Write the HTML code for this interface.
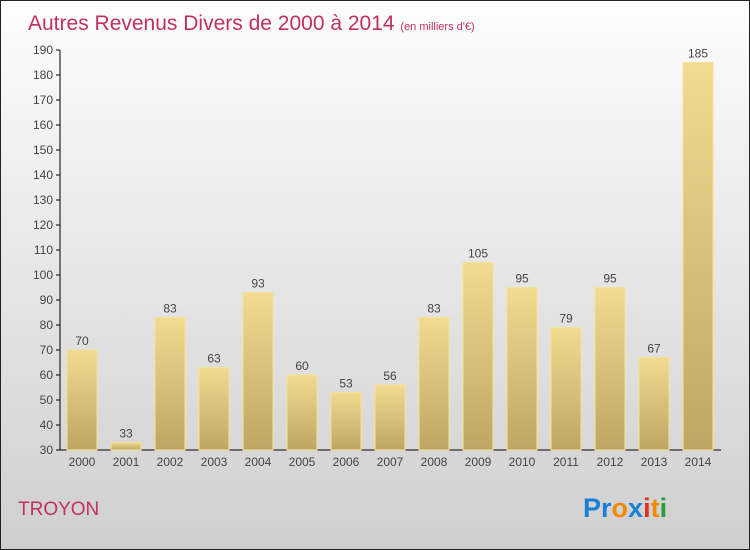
<!DOCTYPE html>
<html><head><meta charset="utf-8"><style>
body{margin:0}
#c{position:relative;width:748px;height:548px;border:1px solid #222;background:linear-gradient(#fdfdfd,#cfcfcf);font-family:"Liberation Sans",sans-serif;overflow:hidden}
</style></head><body>
<div id="c">
<svg width="748" height="548">
<defs><linearGradient id="g" x1="0" y1="0" x2="0" y2="1"><stop offset="0" stop-color="#f3da92"/><stop offset="1" stop-color="#bea662"/></linearGradient></defs>
<text x="27" y="29" font-size="21" fill="#c2305f">Autres Revenus Divers de 2000 à 2014 <tspan font-size="11">(en milliers d'€)</tspan></text>
<g id="axes"></g><g id="bars"></g>
<text x="17" y="514" font-size="19" fill="#c2305f">TROYON</text>
<text x="582" y="516" font-size="27" font-weight="bold"><tspan fill="#1a7fd6">Pr</tspan><tspan fill="#f08a00">o</tspan><tspan fill="#1a7fd6">x</tspan><tspan fill="#e03020">i</tspan><tspan fill="#f08a00">t</tspan><tspan fill="#2a9a3a">i</tspan></text>
</svg></div>
<script>
const years=["2000","2001","2002","2003","2004","2005","2006","2007","2008","2009","2010","2011","2012","2013","2014"];
const values=[70,33,83,63,93,60,53,56,83,105,95,79,95,67,185];
const ticks=[30,40,50,60,70,80,90,100,110,120,130,140,150,160,170,180,190];
const NS="http://www.w3.org/2000/svg";
const y=v=>449-(v-30)*2.5, x=i=>66+44*i;
const ax=document.getElementById('axes'), bg=document.getElementById('bars');
function mk(t,a,p){const e=document.createElementNS(NS,t);for(const k in a)e.setAttribute(k,a[k]);p.appendChild(e);return e;}
let l=mk('line',{x1:59,y1:49,x2:59,y2:449,stroke:'#000'},ax);


l=mk('line',{x1:59,y1:449,x2:720,y2:449,stroke:'#000'},ax);


ticks.forEach(t=>{mk('line',{x1:55,x2:59,y1:y(t),y2:y(t),stroke:'#000'},ax);
const e=mk('text',{x:52,y:y(t)+4,'font-size':12,fill:'#444','text-anchor':'end'},ax);e.textContent=t;

});
years.forEach((yr,i)=>{const r=mk('rect',{x:x(i),y:y(values[i]),width:30,height:449-y(values[i]),fill:'url(#g)',stroke:'#f5e29a','stroke-width':1},bg);


const v=mk('text',{x:x(i)+15,y:y(values[i])-5,'font-size':12,fill:'#444','text-anchor':'middle'},bg);v.textContent=values[i];


const t=mk('text',{x:x(i)+15,y:465,'font-size':12,fill:'#444','text-anchor':'middle'},bg);t.textContent=yr;

});
</script>
</body></html>
